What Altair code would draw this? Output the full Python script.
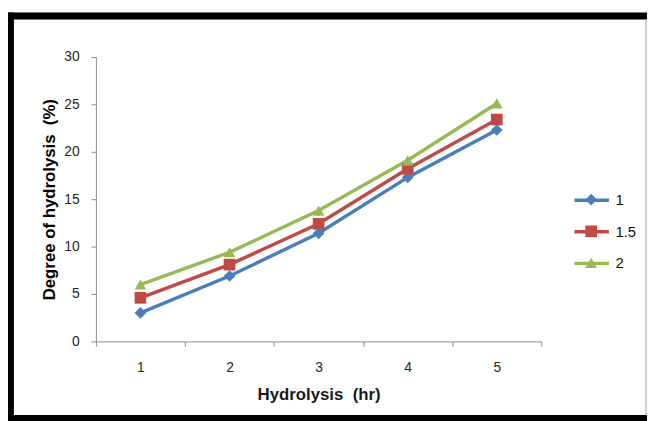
import altair as alt
import pandas as pd

# ---- data ----
hours = [1, 2, 3, 4, 5]
series_names = ["1", "1.5", "2"]
dh_1 = [3.0, 6.9, 11.4, 17.3, 22.3]
dh_15 = [4.6, 8.1, 12.4, 18.2, 23.4]
dh_2 = [6.0, 9.4, 13.8, 19.1, 25.1]
y_ticks = [0, 5, 10, 15, 20, 25, 30]

colors = ["#4A7EBB", "#BE4B48", "#98B954"]
shapes = ["diamond", "square", "triangle-up"]

rows = []
for name, vals in zip(series_names, [dh_1, dh_15, dh_2]):
    for h, v in zip(hours, vals):
        rows.append({"hour": h, "series": name, "dh": v})
df = pd.DataFrame(rows)

W, H = 451, 288
FONT = "Liberation Sans"

x_enc = alt.X(
    "hour:O",
    scale=alt.Scale(type="band", paddingInner=0, paddingOuter=0),
    axis=alt.Axis(
        title="Hydrolysis\u00a0 (hr)",
        labelAngle=0,
        tickBand="extent",
        tickSize=5,
        labelPadding=14,
        labelFontSize=14,
        labelColor="#262626",
        labelFont=FONT,
        domainColor="#8C8C8C",
        tickColor="#8C8C8C",
        titleFont=FONT,
        titleFontSize=17,
        titleFontWeight="bold",
        titleColor="#1a1a1a",
        titleBaseline="alphabetic",
        titleX=W / 2,
        titleY=59,
        grid=False,
    ),
)
y_enc = alt.Y(
    "dh:Q",
    scale=alt.Scale(domain=[0, 30]),
    axis=alt.Axis(
        values=y_ticks,
        title="Degree of hydrolysis\u00a0 (%)",
        grid=False,
        tickSize=5,
        labelPadding=12,
        labelFontSize=14,
        labelColor="#262626",
        labelFont=FONT,
        domainColor="#8C8C8C",
        tickColor="#8C8C8C",
        titleFont=FONT,
        titleFontSize=17,
        titleFontWeight="bold",
        titleColor="#000000",
        titleAngle=270,
        titleAlign="center",
        titleBaseline="alphabetic",
        titleX=-42,
        titleY=H / 2,
    ),
)

LEG_X = 494
LEG_Y = 137
common_leg = dict(
    orient="none",
    legendX=LEG_X,
    legendY=LEG_Y,
    title=None,
    padding=0,
    labelFont=FONT,
    labelFontSize=15,
    labelColor="#111111",
    labelOffset=16,
    rowPadding=16,
    symbolSize=140,
)

lines = alt.Chart(df).mark_line(strokeWidth=3.5).encode(
    x=x_enc,
    y=y_enc,
    color=alt.Color(
        "series:N",
        scale=alt.Scale(domain=series_names, range=colors),
        legend=alt.Legend(symbolType="M-2.95,0H2.95", symbolStrokeWidth=3.5, **common_leg),
    ),
)

points = alt.Chart(df).mark_point(filled=True, size=140, opacity=1).encode(
    x=x_enc,
    y=y_enc,
    color=alt.Color(
        "series:N",
        scale=alt.Scale(domain=series_names, range=colors),
        legend=alt.Legend(symbolStrokeWidth=0, labelOpacity=0, **common_leg),
    ),
    shape=alt.Shape(
        "series:N",
        scale=alt.Scale(domain=series_names, range=shapes),
        legend=alt.Legend(symbolStrokeWidth=0, labelOpacity=0, **common_leg),
    ),
)

one = alt.Data(values=[{"k": 0}])
frame_top = alt.Chart(one).mark_rule(color="black", strokeWidth=7).encode(
    x=alt.value(-95), x2=alt.value(565), y=alt.value(-41.5)
)
frame_left = alt.Chart(one).mark_rule(color="black", strokeWidth=7).encode(
    x=alt.value(-86.5), y=alt.value(-45), y2=alt.value(372)
)
frame_bottom = alt.Chart(one).mark_rule(color="black", strokeWidth=7).encode(
    x=alt.value(-95), x2=alt.value(565), y=alt.value(366)
)
frame_right = alt.Chart(one).mark_rule(color="#A0A0A0", strokeWidth=1).encode(
    x=alt.value(557), y=alt.value(-38), y2=alt.value(363)
)

chart = (
    alt.layer(lines, points, frame_top, frame_left, frame_bottom, frame_right)
    .resolve_scale(color="independent", shape="independent")
    .resolve_legend(color="independent", shape="independent")
    .properties(
        width=W,
        height=H,
        padding={"left": 89, "top": 47, "right": 107, "bottom": 78},
        autosize=alt.AutoSizeParams(type="none"),
        background="white",
    )
    .configure_view(stroke=None)
)

chart.save("out.html", embed_options={"renderer": "svg", "actions": False})
